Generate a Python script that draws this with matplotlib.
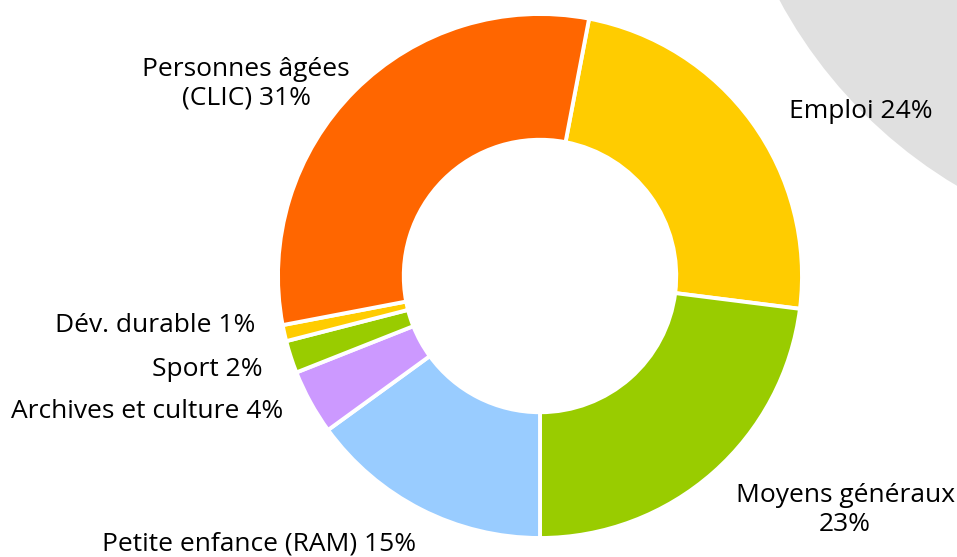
import matplotlib
matplotlib.use('Agg')
import matplotlib.pyplot as plt
import matplotlib.patches as mpatches

# ── DATA ─────────────────────────────────────────────────────────────────────
categories = ['Emploi', 'Moyens généraux', 'Petite enfance (RAM)',
              'Archives et culture', 'Sport', 'Dév. durable',
              'Personnes âgées (CLIC)']
shares     = [24, 23, 15, 4, 2, 1, 31]
colors     = ['#FFCC00', '#99CC00', '#99CCFF', '#CC99FF', '#99CC00',
              '#FFCC00', '#FF6600']
label_txt  = ['Emploi 24%', 'Moyens généraux\n23%', 'Petite enfance (RAM) 15%',
              'Archives et culture 4%', 'Sport 2%', 'Dév. durable 1%',
              'Personnes âgées\n(CLIC) 31%']

# ── FIGURE ───────────────────────────────────────────────────────────────────
W, H = 957, 557
plt.rcParams['font.family'] = ['Open Sans', 'DejaVu Sans']
fig = plt.figure(figsize=(W / 100, H / 100), dpi=100)
ax = fig.add_axes([0, 0, 1, 1])

# light grey backdrop shape, top right
ax.add_patch(mpatches.Circle((1204, H + 228), 482, facecolor='#E0E0E0',
                             edgecolor='none', zorder=0))

cx, cy, R = 540, H - 276, 262
ax.pie(shares, colors=colors, startangle=90 - 10.8, counterclock=False,
       center=(cx, cy), radius=R,
       wedgeprops=dict(width=R * 0.48, edgecolor='white', linewidth=2.8))

# label positions in pixel coords (x, y from top), alignment
lab_pos = [(789, 111, 'left'), (845, 510, 'center'), (259, 544, 'center'),
           (283, 411, 'right'), (263, 369, 'right'), (255, 325, 'right'),
           (246, 84, 'center')]
for txt, (x, y, ha) in zip(label_txt, lab_pos):
    ax.text(x, H - y, txt, ha=ha, va='center', fontsize=19,
            color='black', linespacing=1.2)

ax.set_xlim(0, W)
ax.set_ylim(0, H)
ax.set_aspect('equal')
ax.axis('off')

fig.savefig('out.png', dpi=100)
